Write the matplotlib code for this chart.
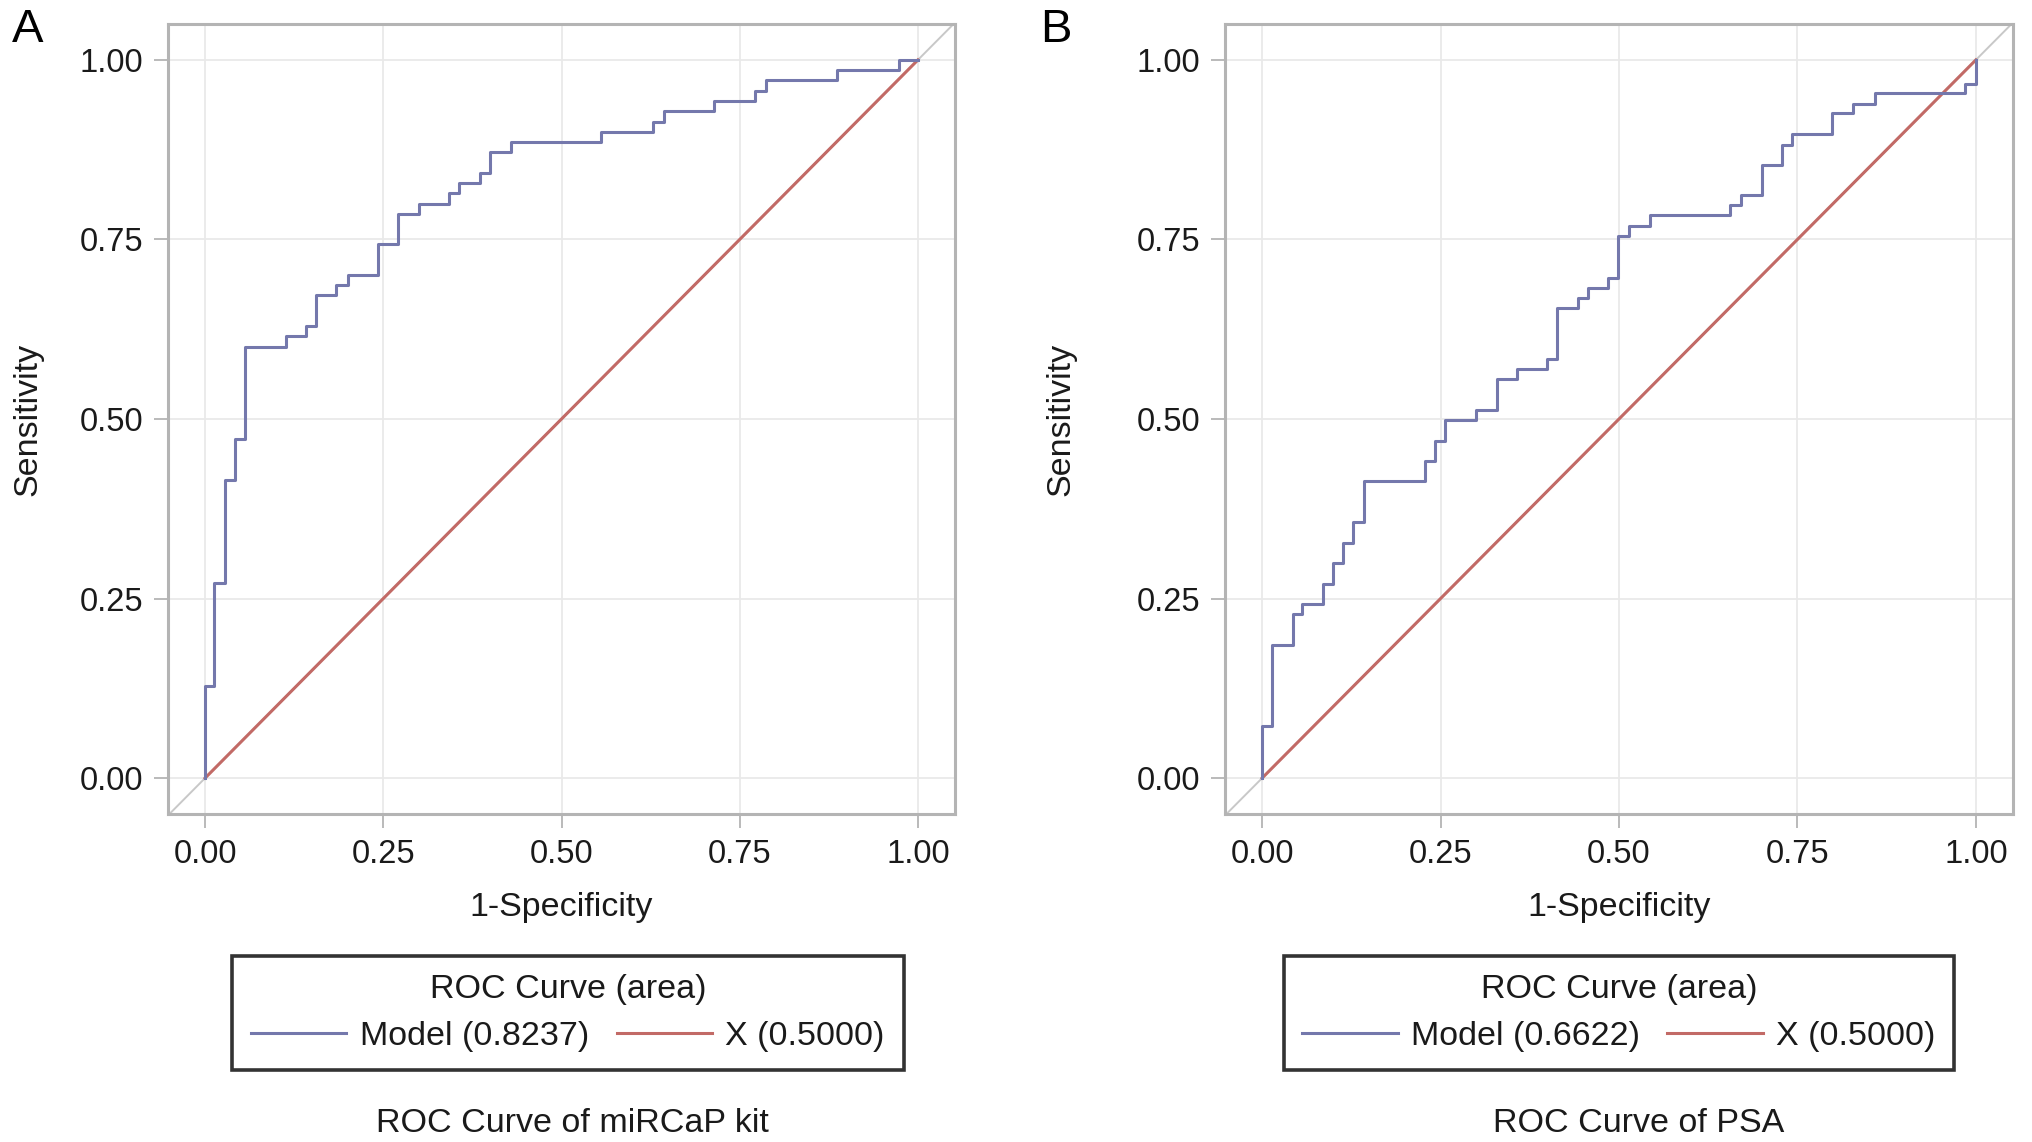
import matplotlib
matplotlib.use("Agg")
from matplotlib import pyplot as plt
from matplotlib.lines import Line2D

plt.rcParams['font.family'] = ['Liberation Sans', 'DejaVu Sans']

# ROC step corners (x where the curve rises, level after rise)
fpr_a = [0, 0, 0.013, 0.028, 0.042, 0.056, 0.114, 0.142, 0.156, 0.184, 0.200,
         0.242, 0.271, 0.300, 0.342, 0.356, 0.386, 0.400, 0.429, 0.556, 0.628,
         0.644, 0.714, 0.772, 0.787, 0.886, 0.973, 1.0]
tpr_a = [0, 0.128, 0.272, 0.415, 0.472, 0.600, 0.615, 0.629, 0.672, 0.686, 0.700,
         0.743, 0.786, 0.800, 0.815, 0.829, 0.843, 0.872, 0.886, 0.900, 0.914,
         0.929, 0.943, 0.957, 0.972, 0.986, 1.0, 1.0]

fpr_b = [0, 0, 0.014, 0.043, 0.056, 0.085, 0.099, 0.114, 0.128, 0.143, 0.228,
         0.242, 0.256, 0.300, 0.329, 0.357, 0.399, 0.413, 0.442, 0.456, 0.485,
         0.499, 0.514, 0.543, 0.656, 0.671, 0.700, 0.728, 0.742, 0.799, 0.828,
         0.858, 0.985, 1.0]
tpr_b = [0, 0.072, 0.185, 0.228, 0.242, 0.270, 0.299, 0.327, 0.356, 0.413, 0.441,
         0.470, 0.499, 0.513, 0.555, 0.569, 0.584, 0.655, 0.669, 0.683, 0.697,
         0.755, 0.769, 0.784, 0.798, 0.812, 0.854, 0.882, 0.897, 0.926, 0.939,
         0.954, 0.967, 1.0]

ref_x = [0, 1]
ref_y = [0, 1]

ticks = [0, 0.25, 0.5, 0.75, 1.0]
auc_a = 0.8237
auc_b = 0.6622
auc_ref = 0.5000
panel_letters = ['A', 'B']
subtitles = ['ROC Curve of miRCaP kit', 'ROC Curve of PSA']

W, H = 2032, 1142
fig = plt.figure(figsize=(W / 100, H / 100), dpi=100)

model_col = '#7478ac'
ref_col = '#c26a66'
frame_col = '#b4b4b4'
txt_col = '#1a1a1a'
fs_tick = 23.5
fs = 24.5


def px_axes(l, r, t, b):
    return [l / W, 1 - b / H, (r - l) / W, (b - t) / H]


boxes = [(168, 955, 24, 814), (1225, 2013, 24, 814)]
curves = [(fpr_a, tpr_a, auc_a), (fpr_b, tpr_b, auc_b)]
leg_x = [568, 1619]
sub_x = [572, 1639]
letter_x = [12, 1040]
ylab_pad = [26, 43]

for i in range(2):
    l, r, t, b = boxes[i]
    ax = fig.add_axes(px_axes(l, r, t, b))
    fx, ty, auc = curves[i]
    ax.plot([-0.05, 1.05], [-0.05, 1.05], color='#c8c8c8', lw=1.4, zorder=1)
    ax.plot(ref_x, ref_y, color=ref_col, lw=2.2, zorder=2)
    ax.step(fx, ty, where='post', color=model_col, lw=2.2, zorder=3)

    ax.set_xlim(-0.052, 1.052)
    ax.set_ylim(-0.05, 1.05)
    ax.set_xticks(ticks)
    ax.set_yticks(ticks)
    ax.set_xticklabels(['%.2f' % v for v in ticks])
    ax.set_yticklabels(['%.2f' % v for v in ticks])
    ax.grid(True, color='#e9e9e9', lw=1.3)
    ax.set_axisbelow(True)
    for s in ax.spines.values():
        s.set_color(frame_col)
        s.set_linewidth(2.2)
    ax.tick_params(length=10, width=1.3, color=frame_col, labelsize=fs_tick,
                   pad=8, labelcolor=txt_col)
    ax.set_xlabel('1-Specificity', fontsize=fs, labelpad=16, color=txt_col)
    ax.set_ylabel('Sensitivity', fontsize=fs, labelpad=ylab_pad[i], color=txt_col)

    handles = [Line2D([], [], color=model_col, lw=2.2),
               Line2D([], [], color=ref_col, lw=2.2)]
    labels = ['Model (%.4f)' % auc, 'X (%.4f)' % auc_ref]
    leg = fig.legend(handles, labels, title='ROC Curve (area)', ncol=2,
                     loc='center', bbox_to_anchor=(leg_x[i] / W, 1 - 1013 / H),
                     fontsize=fs, title_fontsize=fs, frameon=True,
                     fancybox=False, edgecolor='black', handlelength=2.8,
                     handletextpad=0.4, columnspacing=0.8, borderpad=0.55,
                     labelspacing=0.45)
    leg.get_frame().set_linewidth(2.6)
    leg.get_title().set_color(txt_col)
    for tx in leg.get_texts():
        tx.set_color(txt_col)

    fig.text(sub_x[i] / W, 1 - 1123 / H, subtitles[i], fontsize=fs,
             ha='center', va='center', color=txt_col)
    fig.text(letter_x[i] / W, 1 - 30 / H, panel_letters[i], fontsize=34,
             ha='left', va='center', color='black')

fig.savefig('out.png', dpi=100)
